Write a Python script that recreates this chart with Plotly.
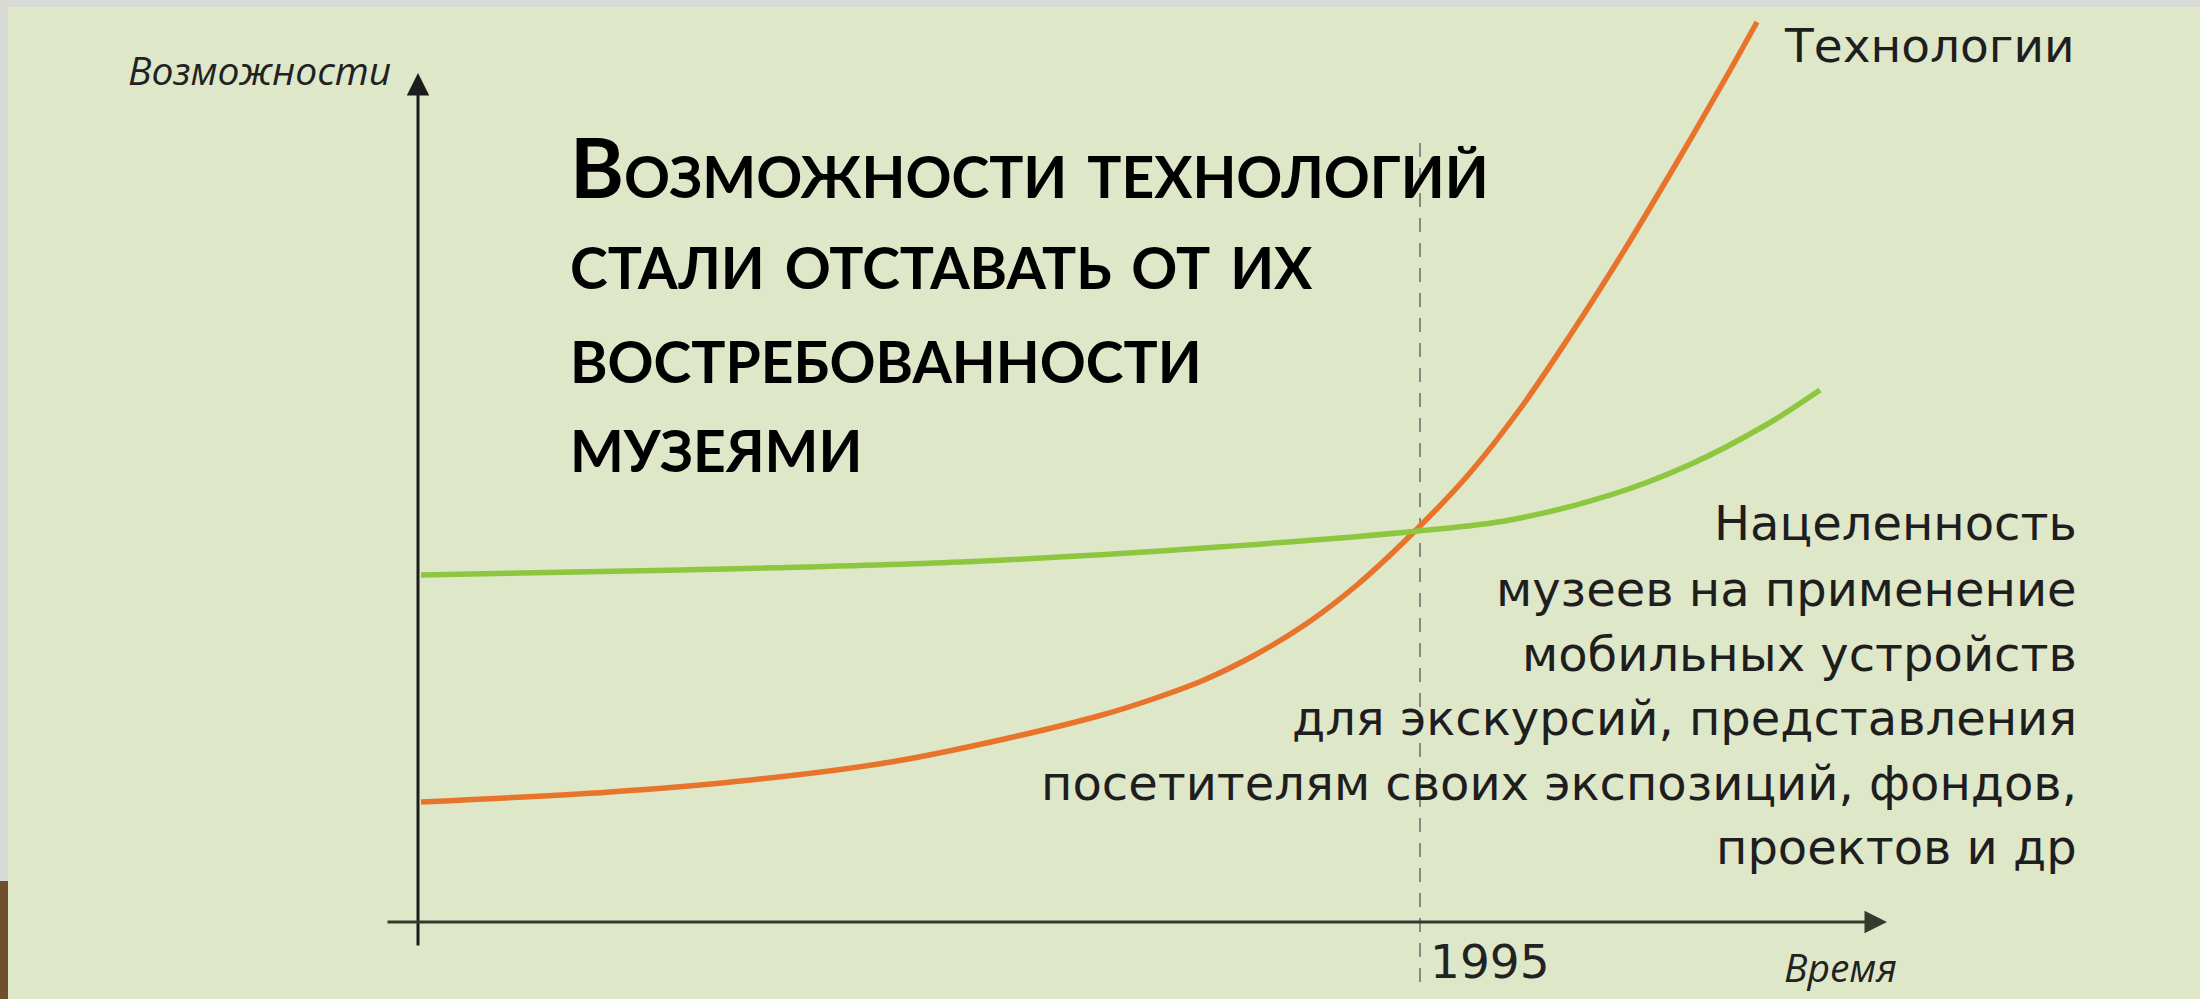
import plotly.graph_objects as go

# ---- data (abstract units: time on x, possibilities on y) ----
time_tech = [0.3, 19.2, 33.3, 47.3, 58.2, 68.4, 73.5, 78.6, 83.7, 88.8, 93.9,
             100.0, 105.1, 110.2, 115.3, 120.4, 125.5, 130.6, 133.9]
tech_values = [12.0, 13.0, 14.2, 16.0, 18.2, 20.7, 22.3, 24.2, 26.7, 29.8, 33.7,
               39.4, 44.8, 51.3, 58.8, 66.8, 75.3, 84.1, 90.0]

time_museum = [0.3, 26.3, 54.3, 78.6, 100.0, 109.2, 119.4, 127.1, 134.7, 140.2]
museum_values = [34.7, 35.2, 36.0, 37.4, 39.1, 40.2, 42.75, 45.7, 49.65, 53.2]

event_time = 100.2
event_label = "1995"

x_axis_label = "Время"
y_axis_label = "Возможности"
tech_label = "Технологии"
museum_label_lines = [
    "Нацеленность",
    "музеев на применение",
    "мобильных устройств",
    "для экскурсий, представления",
    "посетителям своих экспозиций, фондов,",
    "проектов и др",
]
heading_lines = [
    "Возможности технологий",
    "стали отставать от их",
    "востребованности",
    "музеями",
]

W, H = 2200, 999
BG = "#DFE7C9"
ORANGE = "#E8742C"
GREEN = "#8DC63F"

fig = go.Figure()

fig.add_trace(go.Scatter(x=time_tech, y=tech_values, mode="lines",
                         line=dict(color=ORANGE, width=5.5, shape="spline", smoothing=1.0),
                         hoverinfo="skip", showlegend=False))
fig.add_trace(go.Scatter(x=time_museum, y=museum_values, mode="lines",
                         line=dict(color=GREEN, width=5.5, shape="spline", smoothing=1.0),
                         hoverinfo="skip", showlegend=False))


def px(xp):
    return xp / W


def py(yp):
    return 1 - yp / H


shapes = [
    # slide background
    dict(type="rect", xref="paper", yref="paper", x0=px(8), x1=1, y0=0, y1=py(7),
         fillcolor=BG, line=dict(width=0), layer="below"),
    dict(type="rect", xref="paper", yref="paper", x0=0, x1=px(8), y0=0, y1=py(881),
         fillcolor="#6E4F2E", line=dict(width=0), layer="below"),
    # dashed marker line
    dict(type="line", xref="x", yref="y", x0=event_time, x1=event_time, y0=-6.0, y1=78.2,
         line=dict(color="#868A7E", width=2, dash="14px,11px"), layer="below"),
]

annotations = []
# axes with arrows
annotations.append(dict(x=0, y=84.9, ax=0, ay=-2.5, xref="x", yref="y", axref="x", ayref="y",
                        text="", showarrow=True, arrowhead=2, arrowsize=1.5, arrowwidth=3,
                        arrowcolor="#1C1C1C", standoff=0, startstandoff=0))
annotations.append(dict(x=146.9, y=0, ax=-3.2, ay=0, xref="x", yref="y", axref="x", ayref="y",
                        text="", showarrow=True, arrowhead=2, arrowsize=1.5, arrowwidth=3,
                        arrowcolor="#333A2E", standoff=0, startstandoff=0))

# axis labels
annotations.append(dict(x=px(393), y=py(70), xref="paper", yref="paper", text=y_axis_label,
                        showarrow=False, xanchor="right", yanchor="middle",
                        font=dict(family="Open Sans", size=39, color="#222", style="italic")))
annotations.append(dict(x=px(1782), y=py(966), xref="paper", yref="paper", text=x_axis_label,
                        showarrow=False, xanchor="left", yanchor="middle",
                        font=dict(family="Open Sans", size=39, color="#222", style="italic")))
annotations.append(dict(x=event_time, y=py(961), xref="x", yref="paper", text=event_label,
                        showarrow=False, xanchor="left", yanchor="middle", xshift=8,
                        font=dict(family="DejaVu Sans", size=47, color="#222")))

# series labels
annotations.append(dict(x=px(1782), y=py(46), xref="paper", yref="paper", text=tech_label,
                        showarrow=False, xanchor="left", yanchor="middle",
                        font=dict(family="DejaVu Sans", size=47, color="#1E1E1E")))
museum_y = [523, 589, 654, 718, 783, 847]
for line, yp in zip(museum_label_lines, museum_y):
    annotations.append(dict(x=px(2079), y=py(yp), xref="paper", yref="paper", text=line,
                            showarrow=False, xanchor="right", yanchor="middle", height=62,
                            font=dict(family="DejaVu Sans", size=48, color="#1E1E1E")))

# heading
heading_y = [166, 257, 351, 440]
for line, yp in zip(heading_lines, heading_y):
    annotations.append(dict(x=px(568), y=py(yp), xref="paper", yref="paper", text=line,
                            showarrow=False, xanchor="left", yanchor="middle",
                            height=86, valign="middle",
                            font=dict(family="Lato", size=82, color="#000",
                                      weight="bold", variant="small-caps")))

fig.update_layout(
    width=W, height=H,
    margin=dict(l=0, r=0, t=0, b=0),
    paper_bgcolor="#D9D9D5",
    plot_bgcolor="rgba(0,0,0,0)",
    xaxis=dict(range=[-41.8, 178.2], visible=False, fixedrange=True),
    yaxis=dict(range=[-7.7, 92.2], visible=False, fixedrange=True),
    shapes=shapes,
    annotations=annotations,
    showlegend=False,
)

fig.write_html("out.html", config=dict(displayModeBar=False))
